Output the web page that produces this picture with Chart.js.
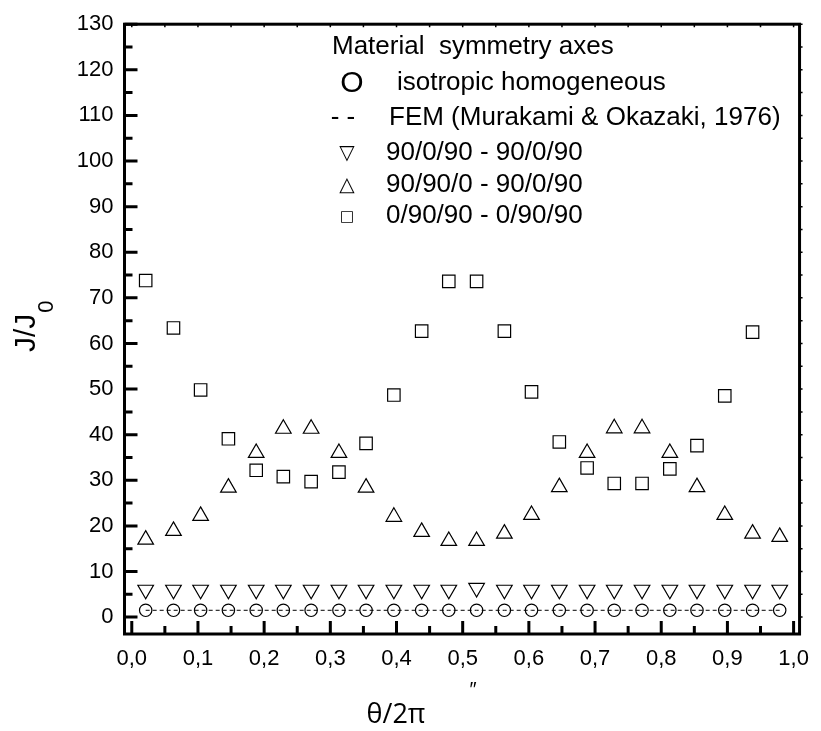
<!DOCTYPE html>
<html>
<head>
<meta charset="UTF-8">
<title>J/J0 vs theta/2pi</title>
<script src="https://cdn.jsdelivr.net/npm/chart.js"></script>
<style>
  body { margin: 0; background: #fff; }
  #wrap { width: 821px; height: 731px; }
</style>
</head>
<body>
<div id="wrap"><canvas id="chart" width="821" height="731"></canvas></div>
<script>
// theta/2pi of the computed points
const thetaPos = [0.021, 0.063, 0.104, 0.146, 0.188, 0.229, 0.271, 0.313, 0.354, 0.396, 0.438, 0.479,
                  0.521, 0.563, 0.604, 0.646, 0.688, 0.729, 0.771, 0.813, 0.854, 0.896, 0.938, 0.979];

// J/J0 for each case
const isotropic = [1.5, 1.5, 1.5, 1.5, 1.5, 1.5, 1.5, 1.5, 1.5, 1.5, 1.5, 1.5,
                   1.5, 1.5, 1.5, 1.5, 1.5, 1.5, 1.5, 1.5, 1.5, 1.5, 1.5, 1.5];
const femRef = [1.5, 1.5, 1.5, 1.5, 1.5, 1.5, 1.5, 1.5, 1.5, 1.5, 1.5, 1.5,
                1.5, 1.5, 1.5, 1.5, 1.5, 1.5, 1.5, 1.5, 1.5, 1.5, 1.5, 1.5];
const lay90_0_90 = [6.0, 6.0, 6.0, 6.0, 6.0, 6.0, 6.0, 6.0, 6.0, 6.0, 6.0, 6.0,
                    6.4, 6.0, 6.0, 6.0, 6.0, 6.0, 6.0, 6.0, 6.0, 6.0, 6.0, 6.0];
const lay90_90_0 = [17.0, 18.9, 22.2, 28.4, 36.0, 41.3, 41.3, 36.0, 28.4, 22.0, 18.7, 16.7,
                    16.7, 18.3, 22.4, 28.5, 36.0, 41.4, 41.4, 36.0, 28.5, 22.4, 18.3, 17.6];
const lay0_90_90 = [73.8, 63.4, 49.8, 39.1, 32.2, 30.8, 29.7, 31.8, 38.1, 48.7, 62.7, 73.6,
                    73.6, 62.7, 49.4, 38.4, 32.7, 29.3, 29.3, 32.5, 37.6, 48.5, 62.5, null];

const xTickVals = [0, 0.1, 0.2, 0.3, 0.4, 0.5, 0.6, 0.7, 0.8, 0.9, 1.0];
const yTickVals = [0, 10, 20, 30, 40, 50, 60, 70, 80, 90, 100, 110, 120, 130];

const legendTitle = "Material  symmetry axes";
const legendRows = [
  ["O", "isotropic homogeneous"],
  ["- -", "FEM (Murakami & Okazaki, 1976)"],
  ["\u25BD", "90/0/90 - 90/0/90"],
  ["\u25B3", "90/90/0 - 90/0/90"],
  ["\u25A1", "0/90/90 - 0/90/90"]
];

const sans = '"Liberation Sans", Arial, sans-serif';

function pts(vals) {
  return thetaPos.map((x, i) => ({ x: x, y: vals[i] }));
}

// frame, inward ticks, legend block and axis titles
const decor = {
  id: 'decor',
  afterDraw(chart) {
    const ctx = chart.ctx;
    const a = chart.chartArea;
    const xs = chart.scales.x, ys = chart.scales.y;
    ctx.save();
    ctx.strokeStyle = '#000';
    ctx.fillStyle = '#000';

    // ticks
    ctx.lineWidth = 3;
    ctx.beginPath();
    xTickVals.forEach((v, i) => {
      let px = xs.getPixelForValue(v);
      ctx.moveTo(px, a.bottom); ctx.lineTo(px, a.bottom - 13);
      if (i < xTickVals.length - 1) {
        let m = xs.getPixelForValue((v + xTickVals[i + 1]) / 2);
        ctx.moveTo(m, a.bottom); ctx.lineTo(m, a.bottom - 8);
      }
    });
    yTickVals.forEach((v, i) => {
      let py = ys.getPixelForValue(v);
      ctx.moveTo(a.left, py); ctx.lineTo(a.left + 13, py);
      if (i < yTickVals.length - 1) {
        let m = ys.getPixelForValue((v + yTickVals[i + 1]) / 2);
        ctx.moveTo(a.left, m); ctx.lineTo(a.left + 8, m);
      }
    });
    ctx.stroke();

    // tiny ticks on top and right side
    ctx.lineWidth = 1.5;
    ctx.beginPath();
    xTickVals.forEach((v, i) => {
      let px = xs.getPixelForValue(v);
      ctx.moveTo(px, a.top); ctx.lineTo(px, a.top + 3);
      if (i < xTickVals.length - 1) {
        let m = xs.getPixelForValue((v + xTickVals[i + 1]) / 2);
        ctx.moveTo(m, a.top); ctx.lineTo(m, a.top + 3);
      }
    });
    yTickVals.forEach((v, i) => {
      let py = ys.getPixelForValue(v);
      ctx.moveTo(a.right, py); ctx.lineTo(a.right + 3, py);
      if (i < yTickVals.length - 1) {
        let m = ys.getPixelForValue((v + yTickVals[i + 1]) / 2);
        ctx.moveTo(a.right, m); ctx.lineTo(a.right + 3, m);
      }
    });
    ctx.stroke();

    // frame
    ctx.lineWidth = 3;
    ctx.strokeRect(a.left, a.top, a.width, a.height);

    // legend block
    ctx.textBaseline = 'middle';
    ctx.textAlign = 'left';
    ctx.font = '26px ' + sans;
    ctx.fillText(legendTitle, 332, 47);
    const rowY = [83, 118, 153, 185, 216];
    legendRows.forEach((r, i) => {
      ctx.textAlign = 'center';
      if (i === 0) {
        ctx.font = '30px ' + sans;
        ctx.fillText(r[0], 352, rowY[i] + 1);
      } else if (i === 1) {
        ctx.font = '26px ' + sans;
        ctx.fillText(r[0], 343, rowY[i]);
      } else if (i === 4) {
        ctx.font = '15px "DejaVu Sans", sans-serif';
        ctx.fillText(r[0], 347, rowY[i] + 1);
      } else {
        ctx.font = '20px "DejaVu Sans", sans-serif';
        ctx.fillText(r[0], 347, rowY[i] + 1);
      }
      ctx.textAlign = 'left';
      ctx.font = '26px ' + sans;
      ctx.fillText(r[1], i === 0 ? 397 : (i === 1 ? 389 : 386), rowY[i]);
    });

    // y title J/J0
    ctx.save();
    ctx.translate(27, 352);
    ctx.rotate(-Math.PI / 2);
    ctx.textAlign = 'left';
    ctx.font = '30px ' + sans;
    ctx.fillText('J/J', 0, 0);
    let w = ctx.measureText('J/J').width;
    ctx.font = '22px ' + sans;
    ctx.fillText('0', w + 1, 20);
    ctx.restore();

    // x title
    ctx.textAlign = 'center';
    ctx.font = '27px "Open Sans", sans-serif';
    ctx.fillText('\u03B8/2\u03C0', 396, 715);
    ctx.font = '20px ' + sans;
    ctx.fillText('\u2033', 473, 690);

    ctx.restore();
  }
};

const pointBase = {
  showLine: false,
  pointBackgroundColor: 'rgba(0,0,0,0)',
  pointBorderColor: '#000',
  pointBorderWidth: 1.2,
  pointHoverRadius: 0
};

new Chart(document.getElementById('chart').getContext('2d'), {
  type: 'scatter',
  data: {
    datasets: [
      { label: 'FEM (Murakami & Okazaki, 1976)', data: pts(femRef), showLine: true,
        borderColor: '#000', borderWidth: 1, borderDash: [4, 3], pointRadius: 0 },
      Object.assign({ label: 'isotropic homogeneous', data: pts(isotropic),
        pointStyle: 'circle', pointRadius: 6.2 }, pointBase),
      Object.assign({ label: '90/0/90 - 90/0/90', data: pts(lay90_0_90),
        pointStyle: 'triangle', pointRotation: 180, pointRadius: 9 }, pointBase),
      Object.assign({ label: '90/90/0 - 90/0/90', data: pts(lay90_90_0),
        pointStyle: 'triangle', pointRadius: 9 }, pointBase),
      Object.assign({ label: '0/90/90 - 0/90/90', data: pts(lay0_90_90),
        pointStyle: 'rect', pointRadius: 8.8 }, pointBase)
    ]
  },
  options: {
    responsive: false,
    animation: false,
    devicePixelRatio: 1,
    layout: { padding: { top: 20, right: 12.5, left: 0, bottom: 0 } },
    plugins: { legend: { display: false }, tooltip: { enabled: false } },
    scales: {
      x: {
        type: 'linear', min: -0.011, max: 1.009,
        grid: { display: false, drawTicks: false },
        border: { display: false },
        afterBuildTicks: s => { s.ticks = xTickVals.map(v => ({ value: v })); },
        afterFit: s => { s.height = 97; },
        ticks: {
          padding: 12, color: '#000', autoSkip: false, maxRotation: 0,
          font: { family: sans, size: 22 },
          callback: v => v.toFixed(1).replace('.', ',')
        }
      },
      y: {
        min: -3.7, max: 130,
        grid: { display: false, drawTicks: false },
        border: { display: false },
        afterBuildTicks: s => { s.ticks = yTickVals.map(v => ({ value: v })); },
        afterFit: s => { s.width = 124.5; },
        ticks: {
          padding: 11, color: '#000',
          font: { family: sans, size: 22 }
        }
      }
    }
  },
  plugins: [decor]
});
</script>
</body>
</html>
